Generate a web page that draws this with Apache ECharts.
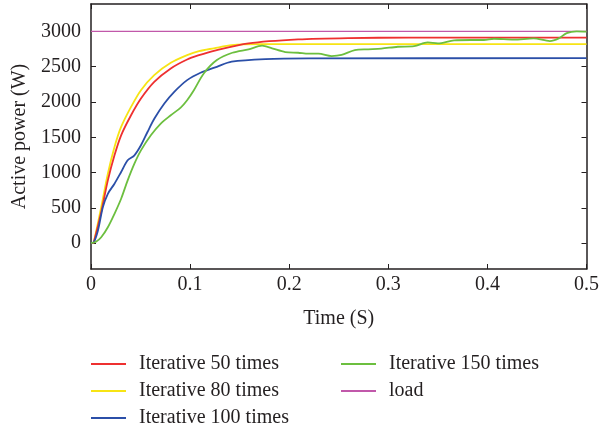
<!DOCTYPE html>
<html><head><meta charset="utf-8">
<script src="https://cdn.jsdelivr.net/npm/echarts@6/dist/echarts.min.js"></script>
<style>html,body{margin:0;padding:0;background:#fff}#c{width:602px;height:430px}</style>
</head><body><div id="c"></div>
<script>
var seriesNames = ['Iterative 50 times','Iterative 80 times','Iterative 100 times','Iterative 150 times','load'];
var xTicks = [0, 0.1, 0.2, 0.3, 0.4, 0.5];
var yTicks = [0, 500, 1000, 1500, 2000, 2500, 3000];

var time50 = [0, 0.002, 0.0037, 0.0103, 0.017, 0.0237, 0.0304, 0.0404, 0.0504, 0.0638, 0.0805, 0.097, 0.109, 0.124, 0.159, 0.209, 0.26, 0.32, 0.5];
var power50 = [0, 0, 60, 440, 890, 1245, 1528, 1812, 2049, 2285, 2475, 2602, 2663, 2725, 2830, 2886, 2905, 2910, 2910];

var time80 = [0, 0.002, 0.0037, 0.0103, 0.017, 0.0237, 0.0304, 0.0404, 0.0504, 0.0638, 0.0805, 0.097, 0.109, 0.124, 0.142, 0.17, 0.5];
var power80 = [0, 0, 70, 511, 985, 1362, 1646, 1930, 2167, 2380, 2554, 2663, 2720, 2760, 2805, 2818, 2820];

var time100 = [0, 0.003, 0.007, 0.012, 0.017, 0.0237, 0.0304, 0.037, 0.0438, 0.0504, 0.057, 0.064, 0.074, 0.084, 0.097, 0.1105, 0.127, 0.142, 0.176, 0.22, 0.5];
var power100 = [0, 20, 180, 511, 700, 843, 1008, 1174, 1245, 1387, 1575, 1765, 1978, 2143, 2309, 2413, 2498, 2570, 2607, 2617, 2620];

var time150 = [0, 0.005, 0.0103, 0.017, 0.0237, 0.0304, 0.037, 0.0438, 0.0504, 0.0604, 0.0704, 0.0805, 0.0905, 0.097, 0.1038, 0.1138, 0.127, 0.1426, 0.159, 0.1726, 0.1827, 0.196, 0.209, 0.2194, 0.2295, 0.2428, 0.2528, 0.2662, 0.2796, 0.293, 0.3096, 0.326, 0.3397, 0.35, 0.3664, 0.383, 0.3965, 0.4065, 0.4265, 0.4466, 0.463, 0.472, 0.48, 0.49, 0.5];
var power150 = [0, 20, 85, 227, 417, 630, 890, 1127, 1315, 1528, 1694, 1812, 1921, 2025, 2167, 2404, 2593, 2697, 2745, 2797, 2760, 2706, 2697, 2683, 2683, 2650, 2665, 2734, 2745, 2755, 2782, 2790, 2843, 2830, 2872, 2877, 2877, 2895, 2882, 2900, 2862, 2900, 2975, 3000, 2995];

var timeLoad = [0, 0.5];
var powerLoad = [3000, 3000];

function pairs(t, v) { return t.map(function (x, i) { return [x, v[i]]; }); }

var FONT = 'Liberation Serif';
var TXT = '#231f20';
var axisLine = { show: true, onZero: false, lineStyle: { color: '#231f20', width: 1.5 } };
var tick = { show: true, inside: true, length: 5, lineStyle: { color: '#231f20', width: 1 } };

var legendPos = [[91, 354], [91, 381], [91, 408], [341, 354], [341, 381]];
var legends = seriesNames.map(function (n, i) {
  return {
    left: legendPos[i][0], top: legendPos[i][1], orient: 'horizontal', padding: 0,
    icon: 'rect', itemWidth: 35, itemHeight: 2,
    data: [n],
    textStyle: { fontFamily: FONT, fontSize: 20, color: TXT, lineHeight: 20, padding: [0, 0, 0, 8] }
  };
});

var chart = echarts.init(document.getElementById('c'), null, { renderer: 'canvas' });
chart.setOption({
  animation: false,
  backgroundColor: '#fff',
  textStyle: { fontFamily: FONT, color: TXT },
  grid: { left: 91, right: 12, top: 4, height: 265, containLabel: false },
  legend: legends,
  xAxis: [{
    type: 'value', min: 0, max: 0.5, interval: 0.1, position: 'bottom',
    name: 'Time (S)', nameLocation: 'middle', nameGap: 40,
    nameTextStyle: { fontFamily: FONT, fontSize: 20, color: TXT },
    axisLine: axisLine,
    axisTick: tick,
    axisLabel: { fontFamily: FONT, fontSize: 20, color: TXT, margin: 6,
      formatter: function (v) { return String(v); } },
    splitLine: { show: false }
  }, {
    type: 'value', min: 0, max: 0.5, interval: 0.1, position: 'top',
    axisLine: axisLine,
    axisTick: tick,
    axisLabel: { show: false }, splitLine: { show: false }
  }],
  yAxis: [{
    type: 'value', min: -365, max: 3387, position: 'left',
    name: 'Active power (W)', nameLocation: 'middle', nameGap: 60,
    nameTextStyle: { fontFamily: FONT, fontSize: 20, color: TXT },
    axisLine: axisLine,
    axisTick: Object.assign({ customValues: yTicks }, tick),
    axisLabel: { fontFamily: FONT, fontSize: 20, color: TXT, margin: 10, customValues: yTicks,
      formatter: function (v) { return String(v); } },
    splitLine: { show: false }
  }, {
    type: 'value', min: -365, max: 3387, position: 'right',
    axisLine: axisLine,
    axisTick: Object.assign({ customValues: yTicks }, tick),
    axisLabel: { show: false }, splitLine: { show: false }
  }],
  series: [
    { name: seriesNames[0], type: 'line', data: pairs(time50, power50), smooth: 0.3, showSymbol: false, symbol: 'none',
      lineStyle: { color: '#ee3030', width: 1.8 }, itemStyle: { color: '#ee3030' }, z: 3 },
    { name: seriesNames[1], type: 'line', data: pairs(time80, power80), smooth: 0.3, showSymbol: false, symbol: 'none',
      lineStyle: { color: '#f7e414', width: 1.8 }, itemStyle: { color: '#f7e414' }, z: 2 },
    { name: seriesNames[2], type: 'line', data: pairs(time100, power100), smooth: 0.3, showSymbol: false, symbol: 'none',
      lineStyle: { color: '#2b4fa8', width: 1.8 }, itemStyle: { color: '#2b4fa8' }, z: 3 },
    { name: seriesNames[3], type: 'line', data: pairs(time150, power150), smooth: 0.3, showSymbol: false, symbol: 'none',
      lineStyle: { color: '#6cbf3f', width: 1.8 }, itemStyle: { color: '#6cbf3f' }, z: 4 },
    { name: seriesNames[4], type: 'line', data: pairs(timeLoad, powerLoad), showSymbol: false, symbol: 'none',
      lineStyle: { color: '#c158aa', width: 1.2 }, itemStyle: { color: '#c158aa' }, z: 2 }
  ]
});
</script></body></html>
